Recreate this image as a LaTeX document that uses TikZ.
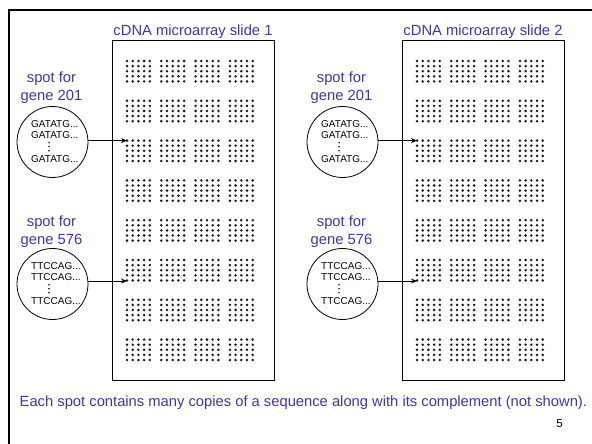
\documentclass[tikz,border=0pt]{standalone}
\usepackage{fontspec}
\setmainfont{Liberation Sans}
\usetikzlibrary{arrows.meta}
\definecolor{lblue}{RGB}{56,56,168}
\begin{document}
\begin{tikzpicture}[x=1pt,y=-1pt,
  lbl/.style={font=\fontsize{14.75}{17.5}\selectfont, text=lblue, inner sep=0pt, anchor=base},
  seq/.style={font=\fontsize{10}{12}\selectfont, inner sep=0pt, anchor=west},
  spot/.style={draw, circle, minimum size=71pt, inner sep=0pt, line width=0.8pt},
  slidebox/.style={draw, line width=0.9pt, minimum width=162pt, minimum height=340pt, anchor=north west, inner sep=0pt},
  arr/.style={-{Stealth[length=6pt,width=5pt]}, line width=0.7pt},
  dotc/.style={fill=black!90}]
\useasboundingbox (0,0) rectangle (592,444);
% frame
\draw[line width=2.6pt] (9,444) -- (9,10) -- (592,10);
% slides
\node[slidebox] (s1) at (112,40) {};
\node[slidebox] (s2) at (402,40) {};
\node[lbl] (t1) at (193,36) {cDNA microarray slide 1};
\node[lbl] (t2) at (483,36) {cDNA microarray slide 2};
% dot blocks
\foreach \ox in {0,290}
 \foreach \bc in {0,...,3}
  \foreach \br in {0,...,7}
   \foreach \i in {0,...,4}
    \foreach \j in {0,...,4}
     \fill[dotc] ({127+\ox+34.3*\bc+5.7*\i},{61+39.8*\br+5.1*\j}) circle (1.4pt);
% labels
\node[lbl] (l1a) at (51.5,83) {spot for};
\node[lbl] (l1b) at (51.5,100.5) {gene 201};
\node[lbl] (l2a) at (51.5,226.8) {spot for};
\node[lbl] (l2b) at (51.5,244.3) {gene 576};
\node[lbl] (l3a) at (341.5,83) {spot for};
\node[lbl] (l3b) at (341.5,100.5) {gene 201};
\node[lbl] (l4a) at (341.5,226.8) {spot for};
\node[lbl] (l4b) at (341.5,244.3) {gene 576};
% spots
\foreach \n/\cx/\cy/\s in {1/52.5/142/GATATG,2/52.5/284/TTCCAG,3/342.5/142/GATATG,4/342.5/284/TTCCAG}{
  \node[spot] (c\n) at (\cx,\cy) {};
  \node[seq] (q\n a) at (\cx-21.5,\cy-18) {\s...};
  \node[seq] (q\n b) at (\cx-21.5,\cy-6.5) {\s...};
  \node[seq] (q\n c) at (\cx-21.5,\cy+17.3) {\s...};
  \foreach \dy in {0.7,4.7,8.7}
    \fill ({\cx-3.5},{\cy+\dy}) circle (0.8pt);
}
% arrow targets
\coordinate (a1) at (127,140.6);
\coordinate (a2) at (127,281);
\coordinate (a3) at (417,140.6);
\coordinate (a4) at (417,281);
\draw[arr] (c1.east |- a1) -- (a1);
\draw[arr] (c2.east |- a2) -- (a2);
\draw[arr] (c3.east |- a3) -- (a3);
\draw[arr] (c4.east |- a4) -- (a4);
% bottom text
\node[lbl, anchor=base west] (note) at (19.5,406) {Each spot contains many copies of a sequence along with its complement (not shown).};
\node[font=\fontsize{11.5}{13}\selectfont, inner sep=0pt, anchor=base] (pg) at (559.5,427.5) {5};
\end{tikzpicture}
\end{document}
